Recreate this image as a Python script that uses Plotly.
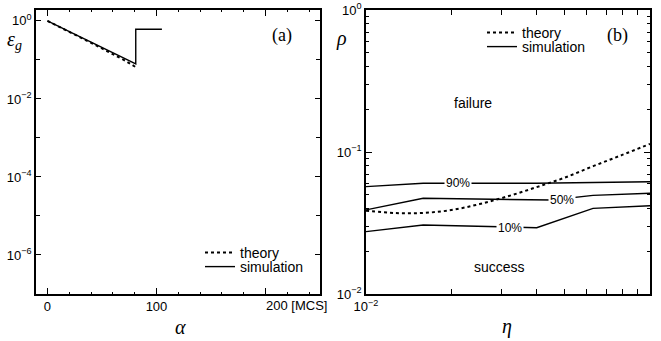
import plotly.graph_objects as go

# ---------------- data ----------------
# panel (a): generalization error vs alpha [MCS]
alpha_sim = [0, 10, 20, 30, 40, 50, 60, 70, 80, 81, 81, 105]
eps_sim = [1.0, 0.74, 0.54, 0.39, 0.285, 0.207, 0.151, 0.111, 0.081, 0.079, 0.61, 0.61]
alpha_th = [0, 10, 20, 30, 40, 50, 60, 70, 80, 82]
eps_th = [1.0, 0.73, 0.53, 0.38, 0.275, 0.197, 0.141, 0.100, 0.068, 0.062]

# panel (b): phase diagram rho vs eta
eta_th = [0.01, 0.01259, 0.01585, 0.01995, 0.02512, 0.03162, 0.03981, 0.05012, 0.0631, 0.07943, 0.1]
rho_th = [0.0386, 0.0372, 0.0372, 0.0390, 0.0430, 0.0488, 0.0565, 0.0660, 0.0795, 0.0950, 0.114]

eta_90 = [0.01, 0.0159, 0.04, 0.063, 0.1]
rho_90 = [0.0570, 0.0602, 0.0603, 0.0608, 0.0618]
eta_50 = [0.01, 0.0159, 0.045, 0.063, 0.1]
rho_50 = [0.0391, 0.0472, 0.0459, 0.0495, 0.0512]
eta_10 = [0.01, 0.0159, 0.0399, 0.063, 0.1]
rho_10 = [0.0275, 0.0306, 0.0293, 0.0401, 0.0418]

W, H = 661, 341
def px(x):
    return x / W
def py(y):
    return 1 - y / H

SANS = "Liberation Sans, Arial, sans-serif"
SERIF = "Liberation Serif, Times New Roman, serif"

fig = go.Figure()

# panel (a)
fig.add_trace(go.Scatter(x=alpha_th, y=eps_th, mode="lines", name="theory",
                         line=dict(color="black", width=2, dash="dot"),
                         xaxis="x", yaxis="y", legend="legend"))
fig.add_trace(go.Scatter(x=alpha_sim, y=eps_sim, mode="lines", name="simulation",
                         line=dict(color="black", width=1.4),
                         xaxis="x", yaxis="y", legend="legend2"))

# panel (b)
fig.add_trace(go.Scatter(x=eta_th, y=rho_th, mode="lines", name="theory",
                         line=dict(color="black", width=2, dash="dot", shape="spline"),
                         xaxis="x2", yaxis="y2", legend="legend3"))
fig.add_trace(go.Scatter(x=eta_90, y=rho_90, mode="lines", name="simulation",
                         line=dict(color="black", width=1.4),
                         xaxis="x2", yaxis="y2", legend="legend4"))
for ex, ry in [(eta_50, rho_50), (eta_10, rho_10)]:
    fig.add_trace(go.Scatter(x=ex, y=ry, mode="lines", showlegend=False,
                             line=dict(color="black", width=1.4),
                             xaxis="x2", yaxis="y2"))

ax_common = dict(showline=True, linecolor="black", linewidth=1.5, mirror="ticks",
                 ticks="inside", tickcolor="black", showgrid=False, zeroline=False,
                 automargin=False,
                 tickfont=dict(family=SANS, size=13, color="black"))

ydom = [py(294), py(10)]

fig.update_layout(
    width=W, height=H, autosize=False,
    margin=dict(l=0, r=0, t=0, b=0),
    paper_bgcolor="white", plot_bgcolor="white",
    xaxis=dict(domain=[px(36), px(320)], range=[-10.5, 250], anchor="y",
               tickvals=[0, 100, 200], ticktext=["0", "100", ""], ticklen=6, tickwidth=1.2,
               minor=dict(tickvals=[20, 40, 60, 80, 120, 140, 160, 180, 220, 240],
                          ticks="inside", ticklen=2.5, tickcolor="black"),
               **ax_common),
    yaxis=dict(domain=ydom, type="log", range=[-7, 0.28], anchor="x",
               tickvals=[1, 1e-2, 1e-4, 1e-6],
               ticktext=["10<sup>0</sup>", "10<sup>−2</sup>", "10<sup>−4</sup>", "10<sup>−6</sup>"],
               ticklen=5, tickwidth=1.2,
               minor=dict(tickvals=[1e-1, 1e-3, 1e-5], ticks="inside", ticklen=4, tickcolor="black"),
               **ax_common),
    xaxis2=dict(domain=[px(366), px(650)], type="log", range=[-2, -1], anchor="y2",
                tickvals=[0.01, 0.1], ticktext=["10<sup>−2</sup>", "10<sup>−1</sup>"],
                ticklen=5, tickwidth=1.2,
                minor=dict(tickvals=[0.02, 0.03, 0.04, 0.05, 0.06, 0.07, 0.08, 0.09],
                           ticks="inside", ticklen=5, tickcolor="black"),
                **ax_common),
    yaxis2=dict(domain=ydom, type="log", range=[-2, 0], anchor="x2",
                tickvals=[1, 0.1, 0.01],
                ticktext=["10<sup>0</sup>", "10<sup>−1</sup>", "10<sup>−2</sup>"],
                ticklen=6, tickwidth=1.2,
                minor=dict(tickvals=[0.02, 0.03, 0.04, 0.05, 0.06, 0.07, 0.08, 0.09,
                                     0.2, 0.3, 0.4, 0.5, 0.6, 0.7, 0.8, 0.9],
                           ticks="inside", ticklen=3.5, tickcolor="black"),
                **ax_common),
)

leg_common = dict(font=dict(family=SANS, size=14, color="black"), bgcolor="rgba(0,0,0,0)",
                  borderwidth=0, itemwidth=30, xanchor="left", yanchor="middle",
                  tracegroupgap=0)
fig.update_layout(
    legend=dict(x=px(200), y=py(253), **leg_common),
    legend2=dict(x=px(200), y=py(267), **leg_common),
    legend3=dict(x=px(482), y=py(33), **leg_common),
    legend4=dict(x=px(482), y=py(47), **leg_common),
)

def note(text, x, y, size, family=SANS, xref="paper", yref="paper", **kw):
    d = dict(x=x, y=y, xref=xref, yref=yref, showarrow=False, text=text,
             xanchor="center", yanchor="middle",
             font=dict(family=family, size=size, color="black"))
    d.update(kw)
    return d

ann = []
# axis titles
ann.append(note("<i>ε<sub>g</sub></i>", px(14), py(40), 20, SERIF))
ann.append(note("<i>ρ</i>", px(342), py(38), 20, SERIF))
ann.append(note("<i>α</i>", px(180), py(340), 20, SERIF, yanchor="bottom"))
ann.append(note("<i>η</i>", px(507), py(340), 20, SERIF, yanchor="bottom"))
# panel labels
ann.append(note("(a)", px(282), py(35), 18, SERIF))
ann.append(note("(b)", px(617), py(35), 18, SERIF))
# "200 [MCS]" tick label
ann.append(note("200 [MCS]", 200, py(305), 13, xref="x", xanchor="left", xshift=-1))
# region labels
ann.append(note("failure", px(472.5), py(103), 14))
ann.append(note("success", px(500), py(267), 14))
# contour labels
for t, lx, ly in [("90%", -1.676, -1.220), ("50%", -1.311, -1.338), ("10%", -1.493, -1.532)]:
    ann.append(note(t, lx, ly, 12, xref="x2", yref="y2", bgcolor="white", borderpad=1))
fig.update_layout(annotations=ann)

fig.write_html("out.html", config={"displayModeBar": False},
               post_script="document.body.style.margin='0px';")
